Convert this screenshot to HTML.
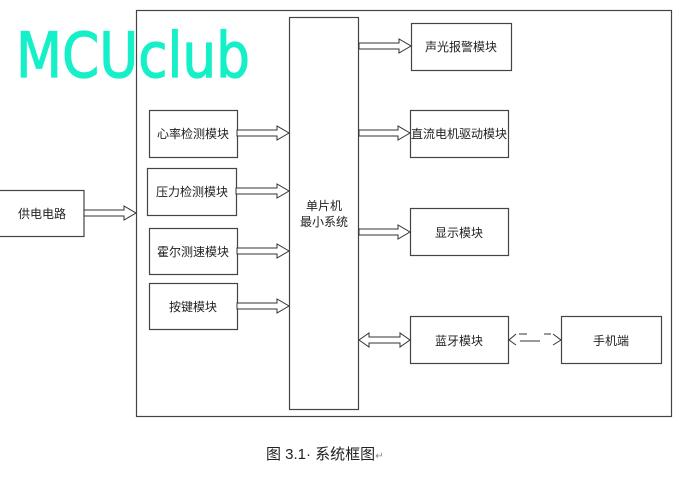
<!DOCTYPE html>
<html><head><meta charset="utf-8"><style>
html,body{margin:0;padding:0;background:#fff;}
svg{display:block;}
text{font-family:"Liberation Sans","Noto Sans CJK SC",sans-serif;fill:#222;}
</style></head><body>
<svg width="685" height="477" viewBox="0 0 685 477" xmlns="http://www.w3.org/2000/svg">
<text x="16" y="77" font-size="62" textLength="234" lengthAdjust="spacingAndGlyphs" style="fill:#16f0c8;stroke:#16f0c8;stroke-width:1.2;font-family:'DejaVu Sans',sans-serif">MCUclub</text>
<g fill="none" stroke="#444" stroke-width="1.2">
<rect x="136.5" y="10.5" width="535" height="406"/>
</g>
<g fill="#fff" stroke="#444" stroke-width="1.2">
<rect x="289.5" y="17.5" width="69" height="392"/>
<rect x="-1" y="190.5" width="85" height="46"/>
<rect x="149.5" y="110.5" width="88" height="47"/>
<rect x="147.5" y="168.5" width="89" height="47"/>
<rect x="149.5" y="228.5" width="88" height="46"/>
<rect x="149.5" y="283.5" width="88" height="46"/>
<rect x="411.5" y="23.5" width="100" height="47"/>
<rect x="410.5" y="110.5" width="98" height="47"/>
<rect x="410.5" y="208.5" width="98" height="47"/>
<rect x="410.5" y="316.5" width="98" height="47"/>
<rect x="561.5" y="316.5" width="100" height="47"/>
</g>
<g fill="#fff" stroke="#333" stroke-width="1">
<polygon points="84,210 124,210 124,206 136,213 124,220 124,216 84,216"/>
<polygon points="237,130 277,130 277,126 289,133 277,140 277,136 237,136"/>
<polygon points="236,188 277,188 277,184 289,191 277,198 277,194 236,194"/>
<polygon points="237,248 277,248 277,244 289,251 277,258 277,254 237,254"/>
<polygon points="237,303 277,303 277,299 289,306 277,313 277,309 237,309"/>
<polygon points="359,43 399,43 399,39 411,46 399,53 399,49 359,49"/>
<polygon points="359,130 398,130 398,126 410,133 398,140 398,136 359,136"/>
<polygon points="359,229 398,229 398,225 410,232 398,239 398,235 359,235"/>
<polygon points="359,340 369,333 369,337 400,337 400,333 410,340 400,347 400,343 369,343 369,347"/>
</g>
<g stroke="#333" stroke-width="1" fill="none">
<polyline points="516,334 509,340 516,345"/>
<polyline points="553,334 561,340 553,345"/>
<line x1="519" y1="334" x2="527" y2="334"/>
<line x1="520" y1="341" x2="540" y2="341"/>
<line x1="544" y1="334" x2="551" y2="334"/>
</g>
<g font-size="12" text-anchor="middle">
<text x="42" y="218">供电电路</text>
<text x="193" y="138">心率检测模块</text>
<text x="192" y="196">压力检测模块</text>
<text x="193" y="256">霍尔测速模块</text>
<text x="193" y="311">按键模块</text>
<text x="324" y="210">单片机</text>
<text x="324" y="226">最小系统</text>
<text x="461" y="51">声光报警模块</text>
<text x="459" y="138">直流电机驱动模块</text>
<text x="459" y="237">显示模块</text>
<text x="459" y="345">蓝牙模块</text>
<text x="611" y="345">手机端</text>
</g>
<text x="266" y="459" font-size="15">图 3.1· 系统框图<tspan font-size="10" fill="#888">↵</tspan></text>
</svg>
</body></html>
